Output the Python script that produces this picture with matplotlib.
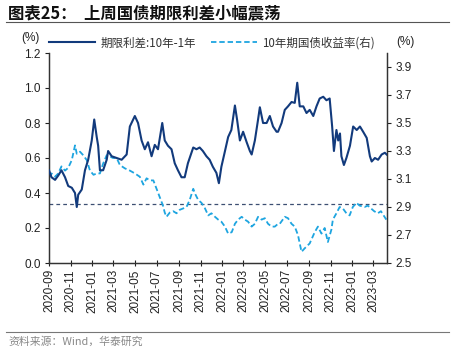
import matplotlib
matplotlib.use("Agg")
import matplotlib.pyplot as plt
from matplotlib.lines import Line2D
import pandas as pd

plt.rcParams['font.family'] = ['Liberation Sans', 'Noto Sans CJK SC', 'DejaVu Sans']

title = "图表25：  上周国债期限利差小幅震荡"
source = "资料来源：Wind，华泰研究"
label_spread = "期限利差:10年-1年"
label_yield = "10年期国债收益率(右)"

spread_dates = [
    "2020-09-01", "2020-09-08", "2020-09-18", "2020-09-27", "2020-10-06", "2020-10-16",
    "2020-10-25", "2020-11-04", "2020-11-13", "2020-11-18", "2020-11-22", "2020-12-02",
    "2020-12-11", "2020-12-20", "2020-12-30", "2021-01-06", "2021-01-13", "2021-01-17",
    "2021-01-22", "2021-01-31", "2021-02-10", "2021-02-14", "2021-02-24", "2021-03-10",
    "2021-03-24", "2021-04-07", "2021-04-16", "2021-04-30", "2021-05-09", "2021-05-19",
    "2021-05-28", "2021-06-06", "2021-06-16", "2021-06-25", "2021-07-04", "2021-07-16",
    "2021-07-23", "2021-08-01", "2021-08-11", "2021-08-20", "2021-08-29", "2021-09-08",
    "2021-09-17", "2021-09-26", "2021-10-11", "2021-10-20", "2021-10-29", "2021-11-07",
    "2021-11-17", "2021-11-26", "2021-12-05", "2021-12-15", "2021-12-22", "2021-12-29",
    "2022-01-07", "2022-01-17", "2022-01-26", "2022-02-05", "2022-02-11", "2022-02-19",
    "2022-02-28", "2022-03-10", "2022-03-19", "2022-03-24", "2022-04-02", "2022-04-11",
    "2022-04-16", "2022-04-25", "2022-05-05", "2022-05-14", "2022-05-23", "2022-06-02",
    "2022-06-06", "2022-06-16", "2022-06-25", "2022-07-04", "2022-07-14", "2022-07-23",
    "2022-07-30", "2022-08-06", "2022-08-16", "2022-08-25", "2022-09-03", "2022-09-13",
    "2022-09-22", "2022-10-01", "2022-10-11", "2022-10-20", "2022-10-29", "2022-11-05",
    "2022-11-10", "2022-11-17", "2022-11-22", "2022-11-27", "2022-12-01", "2022-12-08",
    "2022-12-15", "2022-12-25", "2023-01-03", "2023-01-13", "2023-01-22", "2023-01-31",
    "2023-02-10", "2023-02-19", "2023-02-24", "2023-03-05", "2023-03-14", "2023-03-24",
    "2023-04-02", "2023-04-07",
]
spread_values = [
    0.53, 0.49, 0.475, 0.50, 0.53, 0.49,
    0.44, 0.43, 0.40, 0.32, 0.39, 0.42,
    0.53, 0.59, 0.70, 0.82, 0.72, 0.67,
    0.53, 0.53, 0.59, 0.64, 0.61, 0.60,
    0.59, 0.62, 0.78, 0.84, 0.80, 0.70,
    0.65, 0.69, 0.61, 0.675, 0.65, 0.80,
    0.70, 0.67, 0.65, 0.57, 0.53, 0.49,
    0.49, 0.57, 0.66, 0.65, 0.66, 0.64,
    0.61, 0.59, 0.55, 0.515, 0.456, 0.55,
    0.63, 0.72, 0.76, 0.90, 0.82, 0.70,
    0.75, 0.69, 0.64, 0.62, 0.70, 0.82,
    0.89, 0.80, 0.80, 0.84, 0.78, 0.75,
    0.75, 0.80, 0.875, 0.895, 0.92, 0.915,
    1.03, 0.895, 0.895, 0.857, 0.875, 0.84,
    0.895, 0.94, 0.95, 0.93, 0.94, 0.78,
    0.64, 0.76, 0.70, 0.74, 0.61, 0.56,
    0.60, 0.67, 0.78, 0.76, 0.78, 0.75,
    0.715, 0.61, 0.58, 0.60, 0.59, 0.62,
    0.63, 0.62,
]

yield_dates = [
    "2020-09-01", "2020-09-08", "2020-09-18", "2020-09-27", "2020-10-06", "2020-10-16",
    "2020-10-25", "2020-11-04", "2020-11-13", "2020-11-18", "2020-11-27", "2020-12-06",
    "2020-12-16", "2020-12-25", "2021-01-04", "2021-01-13", "2021-01-22", "2021-01-31",
    "2021-02-10", "2021-02-19", "2021-02-28", "2021-03-10", "2021-03-19", "2021-04-02",
    "2021-04-16", "2021-04-30", "2021-05-14", "2021-05-24", "2021-06-02", "2021-06-11",
    "2021-06-21", "2021-06-30", "2021-07-09", "2021-07-18", "2021-07-23", "2021-07-28",
    "2021-08-06", "2021-08-16", "2021-08-25", "2021-09-03", "2021-09-13", "2021-09-22",
    "2021-10-01", "2021-10-11", "2021-10-18", "2021-10-25", "2021-11-03", "2021-11-13",
    "2021-11-22", "2021-12-01", "2021-12-11", "2021-12-20", "2021-12-29", "2022-01-08",
    "2022-01-17", "2022-01-27", "2022-02-05", "2022-02-14", "2022-02-24", "2022-03-05",
    "2022-03-14", "2022-03-24", "2022-04-02", "2022-04-11", "2022-04-21", "2022-04-30",
    "2022-05-09", "2022-05-19", "2022-05-28", "2022-06-06", "2022-06-11", "2022-06-25",
    "2022-07-04", "2022-07-14", "2022-07-23", "2022-08-01", "2022-08-11", "2022-08-20",
    "2022-09-03", "2022-09-17", "2022-09-26", "2022-10-06", "2022-10-15", "2022-10-24",
    "2022-11-03", "2022-11-07", "2022-11-17", "2022-11-26", "2022-12-05", "2022-12-15",
    "2022-12-24", "2023-01-02", "2023-01-12", "2023-01-21", "2023-02-04", "2023-02-13",
    "2023-02-22", "2023-03-03", "2023-03-13", "2023-03-22", "2023-04-06",
]
yield_values = [
    3.116, 3.14, 3.116, 3.14, 3.19, 3.16,
    3.18, 3.235, 3.34, 3.28, 3.295, 3.27,
    3.235, 3.16, 3.13, 3.14, 3.14, 3.21,
    3.27, 3.26, 3.25, 3.25, 3.20, 3.176,
    3.16, 3.14, 3.116, 3.06, 3.105, 3.09,
    3.09, 3.03, 2.97, 2.91, 2.86, 2.83,
    2.86, 2.87, 2.855, 2.88, 2.89, 2.90,
    2.95, 3.03, 2.985, 2.95, 2.93, 2.89,
    2.84, 2.855, 2.83, 2.81, 2.795, 2.76,
    2.71, 2.72, 2.78, 2.81, 2.83, 2.81,
    2.795, 2.76, 2.78, 2.83, 2.81, 2.82,
    2.78, 2.76, 2.76, 2.78, 2.78, 2.83,
    2.82, 2.78, 2.76, 2.70, 2.58, 2.605,
    2.64, 2.72, 2.76, 2.71, 2.75, 2.65,
    2.74, 2.81, 2.855, 2.90, 2.89, 2.855,
    2.84, 2.90, 2.93, 2.91, 2.90, 2.91,
    2.89, 2.87, 2.855, 2.87, 2.81,
]

ref_level = 2.92

left_ticks = [0.0, 0.2, 0.4, 0.6, 0.8, 1.0, 1.2]
right_ticks = [2.5, 2.7, 2.9, 3.1, 3.3, 3.5, 3.7, 3.9]
x_ticks = ["2020-09", "2020-11", "2021-01", "2021-03", "2021-05", "2021-07", "2021-09",
           "2021-11", "2022-01", "2022-03", "2022-05", "2022-07", "2022-09", "2022-11",
           "2023-01", "2023-03"]

navy = "#123A7C"
cyan = "#1EA5E0"
cjk = ['Noto Sans CJK SC', 'DejaVu Sans']

W, H = 451, 351
fig = plt.figure(figsize=(W / 100, H / 100), dpi=100)
ax = fig.add_axes([49 / W, 1 - 263 / H, (387 - 49) / W, (263 - 53) / H])
ax2 = ax.twinx()

sd = pd.to_datetime(spread_dates)
yd = pd.to_datetime(yield_dates)
ax.plot(sd, spread_values, color=navy, lw=1.5, zorder=3)
ax2.plot(yd, yield_values, color=cyan, lw=1.3, dashes=(3, 1.6), zorder=2)
ax2.axhline(ref_level, color="#3C4F72", lw=0.9, dashes=(3, 2.5), zorder=1)

ax.set_zorder(ax2.get_zorder() + 1)
ax.patch.set_visible(False)

ax.set_ylim(0, 1.2)
ax2.set_ylim(2.5, 4.0)
ax.set_yticks(left_ticks)
ax.set_yticklabels([f"{t:.1f}" for t in left_ticks])
ax2.set_yticks(right_ticks)
ax2.set_yticklabels([f"{t:.1f}" for t in right_ticks])

ax.set_xlim(pd.Timestamp("2020-09-01"), pd.Timestamp("2023-04-08"))
xt = pd.to_datetime([s + "-01" for s in x_ticks])
ax.set_xticks(xt)
ax.set_xticklabels(x_ticks, rotation=90)

for a in (ax, ax2):
    a.spines['top'].set_visible(False)
    for s in ('left', 'right', 'bottom'):
        a.spines[s].set_color("#333333")
        a.spines[s].set_linewidth(0.9)
ax.tick_params(axis='y', direction='out', length=3, width=0.8, labelsize=8.5, pad=3, colors="#222222")
ax2.tick_params(axis='y', direction='out', length=3, width=0.8, labelsize=8.5, pad=3, colors="#222222")
ax.tick_params(axis='x', direction='inout', length=5, width=0.8, labelsize=8.5, pad=2, colors="#222222")

# Title and rules
fig.text(8 / W, 1 - 13 / H, title, family=cjk, fontsize=11.8, fontweight='bold',
         color="#111111", ha='left', va='center')
fig.add_artist(Line2D([6 / W, 449 / W], [1 - 22 / H, 1 - 22 / H], color="#555555", lw=0.8))
fig.add_artist(Line2D([6 / W, 449 / W], [1 - 332 / H, 1 - 332 / H], color="#777777", lw=0.8))
fig.text(8 / W, 1 - 342 / H, source, family=cjk, fontsize=7.8, color="#888888",
         ha='left', va='center')

fig.text(30 / W, 1 - 38 / H, "(%)", fontsize=8.5, color="#222222", ha='center', va='center')
fig.text(405 / W, 1 - 42 / H, "(%)", fontsize=8.5, color="#222222", ha='center', va='center')

handles = [Line2D([], [], color=navy, lw=1.5),
           Line2D([], [], color=cyan, lw=1.3, dashes=(3, 1.6))]
leg = fig.legend(handles, [label_spread, label_yield], loc='center',
                 bbox_to_anchor=(212 / W, 1 - 43 / H), ncol=2, frameon=False,
                 handlelength=4.0, columnspacing=1.3, handletextpad=0.45,
                 prop={'family': cjk, 'size': 8.3})
for t in leg.get_texts():
    t.set_color("#333333")

fig.savefig("out.png", dpi=100)
